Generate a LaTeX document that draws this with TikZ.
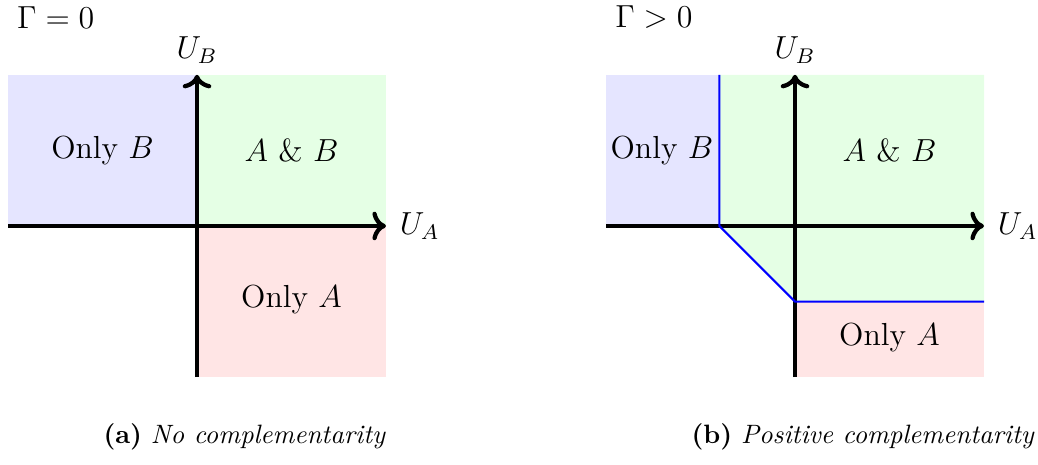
\documentclass[tikz,border=0pt]{standalone}
\usetikzlibrary{arrows.meta}
\begin{document}
\begin{tikzpicture}[
  axis/.style={ultra thick,->},
  lbl/.style={font=\large, inner sep=1pt},
  captext/.style={font=\normalsize},
  bound/.style={blue, thick}
]
\useasboundingbox (-2.606,-3.161) rectangle (11.124,2.989);
% ---------- left panel ----------
\fill[blue!10] (-2.5,0) rectangle (0,2);
\fill[green!10] (0,0) rectangle (2.5,2);
\fill[red!10] (0,-2) rectangle (2.5,0);
\coordinate (lxs) at (-2.5,0);
\coordinate (lxe) at (2.5,0);
\coordinate (lys) at (0,-2);
\coordinate (lye) at (0,2);
\draw[axis] (lxs) -- (lxe);
\draw[axis] (lys) -- (lye);
\node[lbl, anchor=west] (lua) at ([xshift=4pt]lxe) {$U_A$};
\node[lbl, anchor=south] (lub) at ([yshift=3pt]lye) {$U_B$};
\node[lbl] (lob) at (-1.25,1) {Only $B$};
\node[lbl] (lab) at (1.25,1) {$A$ \& $B$};
\node[lbl] (loa) at (1.25,-0.97) {Only $A$};
\node[lbl, anchor=west] (lg) at (-2.42,2.76) {$\Gamma=0$};
\node[captext] (lcap) at (0.63,-2.79) {\textbf{(a)} \textit{No complementarity}};
% ---------- right panel ----------
\begin{scope}[xshift=7.91cm]
\fill[blue!10] (-2.5,0) rectangle (-1,2);
\fill[green!10] (-1,2) -- (-1,0) -- (0,-1) -- (2.5,-1) -- (2.5,2) -- cycle;
\fill[red!10] (0,-2) rectangle (2.5,-1);
\coordinate (rxs) at (-2.5,0);
\coordinate (rxe) at (2.5,0);
\coordinate (rys) at (0,-2);
\coordinate (rye) at (0,2);
\coordinate (b1) at (-1,2);
\coordinate (b2) at (-1,0);
\coordinate (b3) at (0,-1);
\coordinate (b4) at (2.5,-1);
\draw[axis] (rxs) -- (rxe);
\draw[axis] (rys) -- (rye);
\draw[bound] (b1) -- (b2) -- (b3) -- (b4);
\node[lbl, anchor=west] (rua) at ([xshift=4pt]rxe) {$U_A$};
\node[lbl, anchor=south] (rub) at ([yshift=3pt]rye) {$U_B$};
\node[lbl] (rob) at (-1.76,1) {Only $B$};
\node[lbl] (rab) at (1.25,1) {$A$ \& $B$};
\node[lbl] (roa) at (1.25,-1.47) {Only $A$};
\node[lbl, anchor=west] (rg) at (-2.42,2.76) {$\Gamma>0$};
\node[captext] (rcap) at (0.9,-2.79) {\textbf{(b)} \textit{Positive complementarity}};
\end{scope}
\end{tikzpicture}
\end{document}
